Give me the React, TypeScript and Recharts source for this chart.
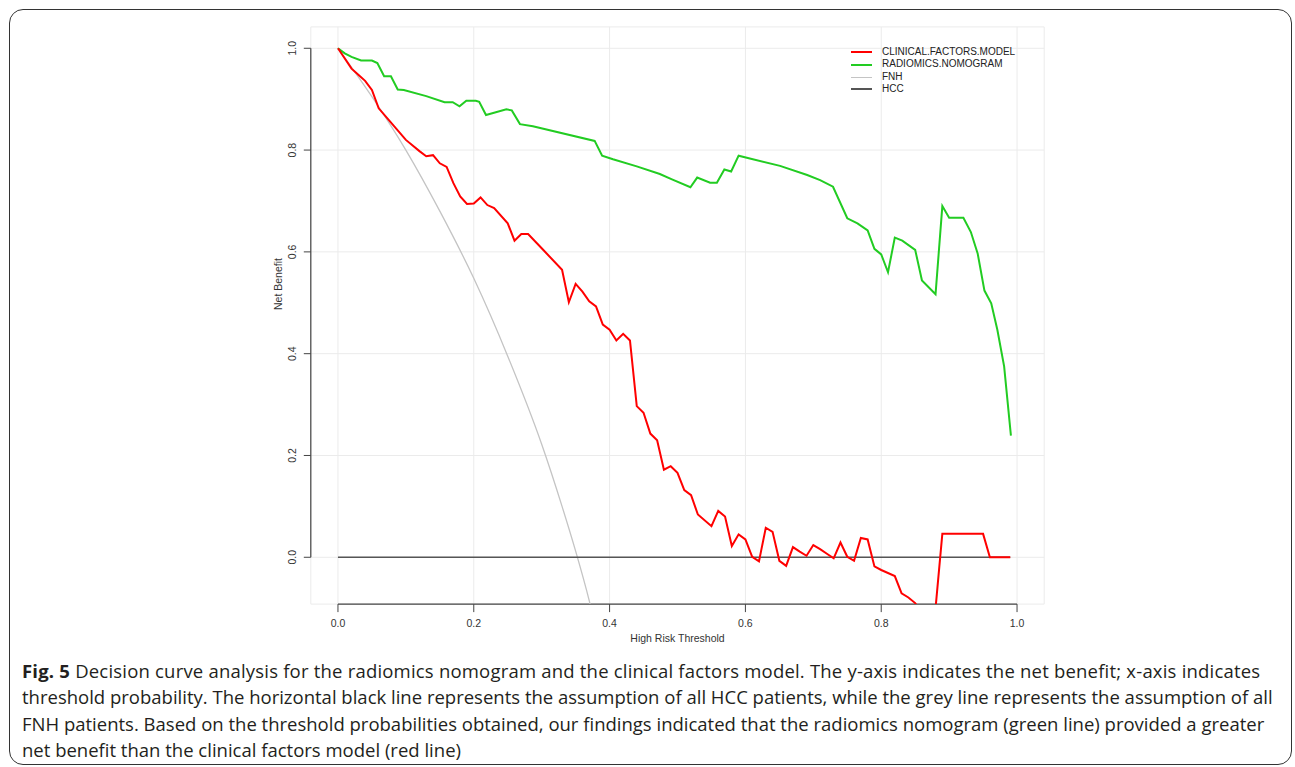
import { LineChart, Line, XAxis, YAxis, CartesianGrid, ReferenceLine, Legend } from 'recharts'

// threshold probabilities and net benefit
const clinicalX = [0, 0.02, 0.03, 0.04, 0.05, 0.06, 0.075, 0.1, 0.12, 0.13, 0.14, 0.15, 0.16, 0.17, 0.18, 0.19, 0.2, 0.21, 0.22, 0.23, 0.25, 0.26, 0.27, 0.28, 0.3, 0.33, 0.34, 0.35, 0.36, 0.37, 0.38, 0.39, 0.4, 0.41, 0.42, 0.43, 0.44, 0.45, 0.46, 0.47, 0.48, 0.49, 0.5, 0.51, 0.52, 0.53, 0.55, 0.56, 0.57, 0.58, 0.59, 0.6, 0.61, 0.62, 0.63, 0.64, 0.65, 0.66, 0.67, 0.68, 0.69, 0.7, 0.71, 0.72, 0.73, 0.74, 0.75, 0.76, 0.77, 0.78, 0.79, 0.8, 0.82, 0.83, 0.84, 0.85, 0.86, 0.87, 0.88, 0.89, 0.95, 0.96, 0.99]
const clinicalNB = [1, 0.96, 0.948, 0.936, 0.918, 0.882, 0.859, 0.82, 0.798, 0.788, 0.79, 0.774, 0.767, 0.735, 0.709, 0.694, 0.695, 0.707, 0.692, 0.686, 0.656, 0.622, 0.635, 0.635, 0.607, 0.565, 0.501, 0.537, 0.522, 0.503, 0.493, 0.457, 0.447, 0.426, 0.439, 0.426, 0.297, 0.284, 0.243, 0.23, 0.172, 0.179, 0.166, 0.132, 0.122, 0.084, 0.061, 0.091, 0.08, 0.022, 0.045, 0.035, 0.001, -0.008, 0.058, 0.05, -0.007, -0.017, 0.02, 0.011, 0.003, 0.024, 0.016, 0.007, -0.002, 0.029, 0.001, -0.007, 0.038, 0.035, -0.018, -0.025, -0.037, -0.071, -0.079, -0.09, -0.11, -0.12, -0.1, 0.046, 0.046, 0, 0]

const nomogramX = [0, 0.01, 0.02, 0.034, 0.05, 0.058, 0.068, 0.078, 0.088, 0.097, 0.13, 0.157, 0.169, 0.179, 0.189, 0.203, 0.208, 0.218, 0.248, 0.256, 0.268, 0.287, 0.378, 0.389, 0.405, 0.44, 0.474, 0.491, 0.519, 0.529, 0.548, 0.558, 0.569, 0.579, 0.59, 0.651, 0.691, 0.71, 0.729, 0.75, 0.765, 0.78, 0.79, 0.8, 0.81, 0.82, 0.831, 0.85, 0.86, 0.88, 0.89, 0.9, 0.921, 0.932, 0.942, 0.952, 0.962, 0.971, 0.981, 0.991]
const nomogramNB = [1, 0.99, 0.983, 0.976, 0.976, 0.971, 0.945, 0.945, 0.919, 0.918, 0.906, 0.894, 0.894, 0.886, 0.897, 0.897, 0.895, 0.869, 0.88, 0.878, 0.851, 0.847, 0.818, 0.789, 0.782, 0.768, 0.753, 0.743, 0.727, 0.746, 0.736, 0.736, 0.762, 0.758, 0.789, 0.769, 0.751, 0.741, 0.728, 0.666, 0.656, 0.642, 0.606, 0.595, 0.56, 0.628, 0.622, 0.604, 0.544, 0.517, 0.69, 0.667, 0.667, 0.639, 0.597, 0.524, 0.499, 0.447, 0.375, 0.239]

const fnhX = [0, 0.05, 0.1, 0.15, 0.2, 0.25, 0.3, 0.33, 0.35, 0.37, 0.38]
const fnhNB = [1, 0.905, 0.8, 0.68, 0.548, 0.395, 0.222, 0.1, 0.012, -0.085, -0.14]

const hccX = [0, 0.99]
const hccNB = [0, 0]

const xTicks = [0, 0.2, 0.4, 0.6, 0.8, 1]
const yTicks = [0, 0.2, 0.4, 0.6, 0.8, 1]

const legendItems = [
  { name: 'CLINICAL.FACTORS.MODEL', color: '#ff0000' },
  { name: 'RADIOMICS.NOMOGRAM', color: '#22cc22' },
  { name: 'FNH', color: '#c4c4c4' },
  { name: 'HCC', color: '#555555' },
]

const rows = (xs: number[], ys: number[]) => xs.map((t, i) => ({ t, nb: ys[i] }))

const axisFont = { fontFamily: 'Liberation Sans, Arial, sans-serif', fontSize: 10.5, fill: '#333' }

const YTick = ({ y, payload }: any) => (
  <text x={292} y={y} transform={`rotate(-90 292 ${y})`} textAnchor="middle" dominantBaseline="central" {...axisFont}>
    {payload.value.toFixed(1)}
  </text>
)

const LegendBox = () => (
  <div style={{ fontFamily: 'Liberation Sans, Arial, sans-serif', fontSize: 10, color: '#222', lineHeight: '12.4px' }}>
    {legendItems.map((d) => (
      <div key={d.name} style={{ display: 'flex', alignItems: 'center' }}>
        <span style={{ display: 'inline-block', width: 21, height: 0, borderTop: `${d.name === 'FNH' ? 1.3 : 2}px solid ${d.color}`, marginRight: 10 }} />
        {d.name}
      </div>
    ))}
  </div>
)

export default function App() {
  return (
    <div style={{ position: 'absolute', left: 0, top: 0, width: 1295, height: 767, background: '#fff' }}>
      <div style={{ position: 'absolute', left: 9, top: 9, width: 1283, height: 756, border: '1.5px solid #333', borderRadius: 14, boxSizing: 'border-box' }} />
      <div style={{ position: 'absolute', left: 0, top: 0 }}>
        <LineChart width={1295} height={650} margin={{ top: 26.9, right: 250.8, bottom: 5.9, left: 270.8 }}>
          <CartesianGrid stroke="#ebebeb" strokeWidth={1} />
          <XAxis
            type="number"
            dataKey="t"
            domain={[-0.04, 1.04]}
            allowDataOverflow
            ticks={xTicks}
            tickFormatter={(v: number) => v.toFixed(1)}
            axisLine={false}
            tickLine={{ stroke: '#444' }}
            tickSize={8}
            tickMargin={7}
            height={40}
            tick={axisFont}
            label={{ value: 'High Risk Threshold', position: 'insideBottom', offset: 2, ...axisFont, fill: '#333' }}
          />
          <YAxis
            type="number"
            domain={[-0.092, 1.042]}
            allowDataOverflow
            ticks={yTicks}
            axisLine={false}
            tickLine={{ stroke: '#444' }}
            tickSize={7}
            width={40}
            tick={<YTick />}
            label={() => (
              <text x={278} y={284} transform="rotate(-90 278 284)" textAnchor="middle" dominantBaseline="central" {...axisFont}>
                Net Benefit
              </text>
            )}
          />
          <ReferenceLine segment={[{ x: 0, y: -0.092 }, { x: 1, y: -0.092 }]} stroke="#444" strokeWidth={1.2} ifOverflow="visible" />
          <ReferenceLine segment={[{ x: -0.04, y: 0 }, { x: -0.04, y: 1 }]} stroke="#444" strokeWidth={1.2} ifOverflow="visible" />
          <Legend content={<LegendBox />} layout="vertical" align="center" verticalAlign="middle" wrapperStyle={{ left: 851, top: 46, width: 200, height: 52 }} />
          <Line data={rows(fnhX, fnhNB)} dataKey="nb" name="FNH" type="monotone" stroke="#c4c4c4" strokeWidth={1.3} dot={false} isAnimationActive={false} />
          <Line data={rows(hccX, hccNB)} dataKey="nb" name="HCC" stroke="#555555" strokeWidth={1.5} dot={false} isAnimationActive={false} />
          <Line data={rows(nomogramX, nomogramNB)} dataKey="nb" name="RADIOMICS.NOMOGRAM" stroke="#22cc22" strokeWidth={2} dot={false} isAnimationActive={false} />
          <Line data={rows(clinicalX, clinicalNB)} dataKey="nb" name="CLINICAL.FACTORS.MODEL" stroke="#ff0000" strokeWidth={2} dot={false} isAnimationActive={false} />
        </LineChart>
      </div>
      <div style={{ position: 'absolute', left: 22, top: 658, fontFamily: '"Open Sans", sans-serif', fontSize: 18.5, lineHeight: '26.3px', color: '#231f20', whiteSpace: 'nowrap' }}>
        <span style={{ letterSpacing: 0.2 }}>
          <b>Fig. 5</b> Decision curve analysis for the radiomics nomogram and the clinical factors model. The y-axis indicates the net benefit; x-axis indicates
        </span>
        <br />
        threshold probability. The horizontal black line represents the assumption of all HCC patients, while the grey line represents the assumption of all
        <br />
        FNH patients. Based on the threshold probabilities obtained, our findings indicated that the radiomics nomogram (green line) provided a greater
        <br />
        net benefit than the clinical factors model (red line)
      </div>
    </div>
  )
}
